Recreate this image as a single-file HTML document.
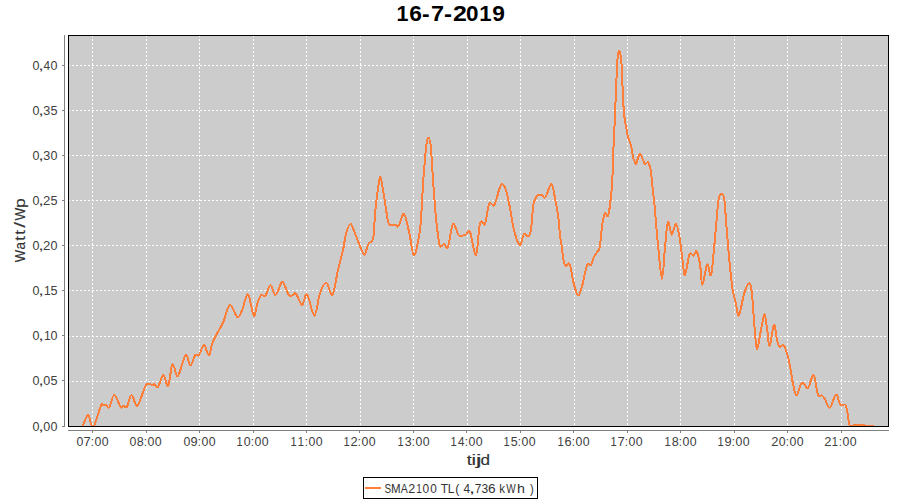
<!DOCTYPE html>
<html><head><meta charset="utf-8"><style>
html,body{margin:0;padding:0;background:#fff;width:900px;height:500px;overflow:hidden}
svg{display:block}
text{font-family:"Liberation Sans",sans-serif}
</style></head><body>
<svg width="900" height="500" viewBox="0 0 900 500">
<rect x="0" y="0" width="900" height="500" fill="#ffffff"/>
<text x="396.55" y="21" font-size="22" font-weight="bold" fill="#000" textLength="11.95" lengthAdjust="spacingAndGlyphs">1</text><text x="409.17" y="21" font-size="22" font-weight="bold" fill="#000" textLength="12.66" lengthAdjust="spacingAndGlyphs">6</text><text x="422.11" y="21" font-size="22" font-weight="bold" fill="#000" textLength="7.61" lengthAdjust="spacingAndGlyphs">-</text><text x="430.99" y="21" font-size="22" font-weight="bold" fill="#000" textLength="13.04" lengthAdjust="spacingAndGlyphs">7</text><text x="443.96" y="21" font-size="22" font-weight="bold" fill="#000" textLength="8.00" lengthAdjust="spacingAndGlyphs">-</text><text x="453.14" y="21" font-size="22" font-weight="bold" fill="#000" textLength="13.86" lengthAdjust="spacingAndGlyphs">2</text><text x="466.11" y="21" font-size="22" font-weight="bold" fill="#000" textLength="12.51" lengthAdjust="spacingAndGlyphs">0</text><text x="479.31" y="21" font-size="22" font-weight="bold" fill="#000" textLength="12.31" lengthAdjust="spacingAndGlyphs">1</text><text x="492.21" y="21" font-size="22" font-weight="bold" fill="#000" textLength="12.63" lengthAdjust="spacingAndGlyphs">9</text>
<rect x="68" y="35" width="820" height="391" fill="#cccccc"/>
<path d="M92.5 35V426M146.5 35V426M199.5 35V426M253.5 35V426M306.5 35V426M360.5 35V426M413.5 35V426M467.5 35V426M520.5 35V426M574.5 35V426M627.5 35V426M680.5 35V426M734.5 35V426M787.5 35V426M841.5 35V426M68 381.5H888M68 336.5H888M68 290.5H888M68 245.5H888M68 200.5H888M68 155.5H888M68 110.5H888M68 65.5H888" stroke="#ffffff" stroke-width="1" stroke-dasharray="2 2" shape-rendering="crispEdges" fill="none"/>
<clipPath id="c"><rect x="68" y="35" width="820" height="391"/></clipPath>
<path d="M82.70 426.00 C83.58 424.17 86.57 415.20 88.00 415.00 C89.43 414.80 90.22 423.17 91.30 424.80 C92.38 426.43 92.88 428.02 94.50 424.80 C96.12 421.58 99.47 408.75 101.00 405.50 C102.53 402.25 102.80 405.30 103.70 405.30 C104.60 405.30 105.47 405.17 106.40 405.50 C107.33 405.83 108.00 409.05 109.30 407.30 C110.60 405.55 112.32 395.05 114.20 395.00 C116.08 394.95 119.07 405.25 120.60 407.00 C122.13 408.75 122.37 405.50 123.40 405.50 C124.43 405.50 125.43 408.75 126.80 407.00 C128.17 405.25 129.83 395.23 131.60 395.00 C133.37 394.77 135.00 407.27 137.40 405.60 C139.80 403.93 143.57 388.43 146.00 385.00 C148.43 381.57 150.60 385.10 152.00 385.00 C153.40 384.90 153.40 384.07 154.40 384.40 C155.40 384.73 156.50 388.57 158.00 387.00 C159.50 385.43 161.73 375.17 163.40 375.00 C165.07 374.83 166.60 387.50 168.00 386.00 C169.40 384.50 170.80 369.20 171.80 366.00 C172.80 362.80 172.97 365.13 174.00 366.80 C175.03 368.47 176.07 377.97 178.00 376.00 C179.93 374.03 183.53 356.78 185.60 355.00 C187.67 353.22 188.80 365.30 190.40 365.30 C192.00 365.30 193.77 356.68 195.20 355.00 C196.63 353.32 197.53 356.87 199.00 355.20 C200.47 353.53 202.35 344.93 204.00 345.00 C205.65 345.07 207.50 355.93 208.90 355.60 C210.30 355.27 210.92 346.90 212.40 343.00 C213.88 339.10 216.00 335.65 217.80 332.20 C219.60 328.75 221.20 326.83 223.20 322.30 C225.20 317.77 227.45 305.88 229.80 305.00 C232.15 304.12 235.27 316.08 237.30 317.00 C239.33 317.92 240.22 314.27 242.00 310.50 C243.78 306.73 246.05 293.55 248.00 294.40 C249.95 295.25 252.13 314.10 253.70 315.60 C255.27 317.10 256.18 306.78 257.40 303.40 C258.62 300.02 259.65 296.62 261.00 295.30 C262.35 293.98 263.90 297.22 265.50 295.50 C267.10 293.78 268.95 285.08 270.60 285.00 C272.25 284.92 273.57 295.42 275.40 295.00 C277.23 294.58 280.17 284.33 281.60 282.50 C283.03 280.67 282.77 281.83 284.00 284.00 C285.23 286.17 287.62 293.58 289.00 295.50 C290.38 297.42 291.13 295.82 292.30 295.50 C293.47 295.18 294.38 292.02 296.00 293.60 C297.62 295.18 300.17 304.87 302.00 305.00 C303.83 305.13 304.93 292.63 307.00 294.40 C309.07 296.17 312.23 315.83 314.40 315.60 C316.57 315.37 318.00 298.43 320.00 293.00 C322.00 287.57 324.33 282.67 326.40 283.00 C328.47 283.33 330.47 297.17 332.40 295.00 C334.33 292.83 336.23 277.50 338.00 270.00 C339.77 262.50 341.67 256.00 343.00 250.00 C344.33 244.00 344.73 238.33 346.00 234.00 C347.27 229.67 348.93 223.67 350.60 224.00 C352.27 224.33 353.77 230.93 356.00 236.00 C358.23 241.07 362.00 252.98 364.00 254.40 C366.00 255.82 366.62 246.82 368.00 244.50 C369.38 242.18 371.30 242.58 372.30 240.50 C373.30 238.42 373.52 236.75 374.00 232.00 C374.48 227.25 374.23 221.00 375.20 212.00 C376.17 203.00 378.50 181.67 379.80 178.00 C381.10 174.33 381.63 182.83 383.00 190.00 C384.37 197.17 386.67 215.17 388.00 221.00 C389.33 226.83 389.83 224.42 391.00 225.00 C392.17 225.58 393.75 224.33 395.00 224.50 C396.25 224.67 397.00 227.75 398.50 226.00 C400.00 224.25 402.20 212.83 404.00 214.00 C405.80 215.17 407.63 226.07 409.30 233.00 C410.97 239.93 412.38 255.10 414.00 255.60 C415.62 256.10 417.83 242.10 419.00 236.00 C420.17 229.90 420.28 228.33 421.00 219.00 C421.72 209.67 422.58 190.50 423.30 180.00 C424.02 169.50 424.77 162.00 425.30 156.00 C425.83 150.00 425.97 147.08 426.50 144.00 C427.03 140.92 427.83 137.50 428.50 137.50 C429.17 137.50 430.00 140.92 430.50 144.00 C431.00 147.08 431.08 150.00 431.50 156.00 C431.92 162.00 432.50 172.67 433.00 180.00 C433.50 187.33 434.00 193.67 434.50 200.00 C435.00 206.33 435.15 210.50 436.00 218.00 C436.85 225.50 438.27 240.67 439.60 245.00 C440.93 249.33 442.60 243.67 444.00 244.00 C445.40 244.33 446.50 250.33 448.00 247.00 C449.50 243.67 451.17 225.90 453.00 224.00 C454.83 222.10 456.83 233.87 459.00 235.60 C461.17 237.33 464.17 235.00 466.00 234.40 C467.83 233.80 468.33 228.57 470.00 232.00 C471.67 235.43 474.33 256.50 476.00 255.00 C477.67 253.50 478.50 228.17 480.00 223.00 C481.50 217.83 483.50 227.17 485.00 224.00 C486.50 220.83 487.58 207.08 489.00 204.00 C490.42 200.92 492.33 206.00 493.50 205.50 C494.67 205.00 495.08 203.58 496.00 201.00 C496.92 198.42 498.00 192.83 499.00 190.00 C500.00 187.17 500.83 184.00 502.00 184.00 C503.17 184.00 504.67 186.00 506.00 190.00 C507.33 194.00 508.67 201.33 510.00 208.00 C511.33 214.67 512.40 223.83 514.00 230.00 C515.60 236.17 517.93 244.33 519.60 245.00 C521.27 245.67 522.60 235.42 524.00 234.00 C525.40 232.58 526.92 236.83 528.00 236.50 C529.08 236.17 529.83 234.75 530.50 232.00 C531.17 229.25 531.50 224.67 532.00 220.00 C532.50 215.33 532.58 208.08 533.50 204.00 C534.42 199.92 536.08 196.95 537.50 195.50 C538.92 194.05 540.67 195.02 542.00 195.30 C543.33 195.58 543.92 199.08 545.50 197.20 C547.08 195.32 549.83 183.37 551.50 184.00 C553.17 184.63 554.42 195.83 555.50 201.00 C556.58 206.17 557.42 211.17 558.00 215.00 C558.58 218.83 558.67 220.67 559.00 224.00 C559.33 227.33 559.58 231.50 560.00 235.00 C560.42 238.50 561.08 242.00 561.50 245.00 C561.92 248.00 562.17 250.50 562.50 253.00 C562.83 255.50 563.12 258.00 563.50 260.00 C563.88 262.00 564.30 264.00 564.80 265.00 C565.30 266.00 565.80 266.25 566.50 266.00 C567.20 265.75 568.25 263.00 569.00 263.50 C569.75 264.00 570.42 266.58 571.00 269.00 C571.58 271.42 571.83 274.83 572.50 278.00 C573.17 281.17 574.03 285.08 575.00 288.00 C575.97 290.92 577.13 295.75 578.30 295.50 C579.47 295.25 580.55 291.50 582.00 286.50 C583.45 281.50 585.50 269.12 587.00 265.50 C588.50 261.88 589.93 266.05 591.00 264.80 C592.07 263.55 592.50 259.97 593.40 258.00 C594.30 256.03 595.40 254.50 596.40 253.00 C597.40 251.50 598.70 251.17 599.40 249.00 C600.10 246.83 600.20 243.50 600.60 240.00 C601.00 236.50 601.40 231.33 601.80 228.00 C602.20 224.67 602.55 222.33 603.00 220.00 C603.45 217.67 604.10 215.08 604.50 214.00 C604.90 212.92 604.85 213.17 605.40 213.50 C605.95 213.83 607.10 216.92 607.80 216.00 C608.50 215.08 609.10 211.00 609.60 208.00 C610.10 205.00 610.37 202.17 610.80 198.00 C611.23 193.83 611.83 189.33 612.20 183.00 C612.57 176.67 612.73 167.17 613.00 160.00 C613.27 152.83 613.53 146.00 613.80 140.00 C614.07 134.00 614.40 129.00 614.60 124.00 C614.80 119.00 614.77 115.00 615.00 110.00 C615.23 105.00 615.70 100.67 616.00 94.00 C616.30 87.33 616.53 76.00 616.80 70.00 C617.07 64.00 617.32 61.00 617.60 58.00 C617.88 55.00 618.20 53.17 618.50 52.00 C618.80 50.83 619.07 50.50 619.40 51.00 C619.73 51.50 620.15 52.83 620.50 55.00 C620.85 57.17 621.22 59.83 621.50 64.00 C621.78 68.17 621.95 74.83 622.20 80.00 C622.45 85.17 622.77 90.33 623.00 95.00 C623.23 99.67 623.30 103.83 623.60 108.00 C623.90 112.17 624.35 116.67 624.80 120.00 C625.25 123.33 625.77 125.17 626.30 128.00 C626.83 130.83 627.38 134.58 628.00 137.00 C628.62 139.42 629.33 140.33 630.00 142.50 C630.67 144.67 631.50 147.50 632.00 150.00 C632.50 152.50 632.58 155.67 633.00 157.50 C633.42 159.33 634.00 159.95 634.50 161.00 C635.00 162.05 635.42 164.30 636.00 163.80 C636.58 163.30 637.30 159.70 638.00 158.00 C638.70 156.30 639.37 153.27 640.20 153.60 C641.03 153.93 642.20 158.30 643.00 160.00 C643.80 161.70 644.17 163.47 645.00 163.80 C645.83 164.13 647.30 161.80 648.00 162.00 C648.70 162.20 648.80 164.00 649.20 165.00 C649.60 166.00 650.00 165.90 650.40 168.00 C650.80 170.10 651.17 173.60 651.60 177.60 C652.03 181.60 652.53 187.60 653.00 192.00 C653.47 196.40 653.57 195.20 654.40 204.00 C655.23 212.80 656.73 232.30 658.00 244.80 C659.27 257.30 660.80 279.00 662.00 279.00 C663.20 279.00 664.20 254.30 665.20 244.80 C666.20 235.30 666.92 223.68 668.00 222.00 C669.08 220.32 670.37 234.42 671.70 234.70 C673.03 234.98 674.68 223.22 676.00 223.70 C677.32 224.18 678.48 231.28 679.60 237.60 C680.72 243.92 681.80 255.37 682.70 261.60 C683.60 267.83 683.87 276.18 685.00 275.00 C686.13 273.82 688.08 257.75 689.50 254.50 C690.92 251.25 692.33 256.00 693.50 255.50 C694.67 255.00 695.42 250.08 696.50 251.50 C697.58 252.92 699.02 258.47 700.00 264.00 C700.98 269.53 701.20 284.62 702.40 284.70 C703.60 284.78 705.77 266.12 707.20 264.50 C708.63 262.88 709.80 278.28 711.00 275.00 C712.20 271.72 713.23 256.63 714.40 244.80 C715.57 232.97 717.15 212.13 718.00 204.00 C718.85 195.87 719.00 197.67 719.50 196.00 C720.00 194.33 720.42 194.17 721.00 194.00 C721.58 193.83 722.42 193.83 723.00 195.00 C723.58 196.17 723.90 195.50 724.50 201.00 C725.10 206.50 725.77 217.83 726.60 228.00 C727.43 238.17 728.68 253.17 729.50 262.00 C730.32 270.83 730.92 276.00 731.50 281.00 C732.08 286.00 732.25 288.17 733.00 292.00 C733.75 295.83 735.00 300.07 736.00 304.00 C737.00 307.93 737.67 317.27 739.00 315.60 C740.33 313.93 742.37 299.35 744.00 294.00 C745.63 288.65 747.53 284.00 748.80 283.50 C750.07 283.00 750.73 284.92 751.60 291.00 C752.47 297.08 753.33 311.83 754.00 320.00 C754.67 328.17 755.03 335.27 755.60 340.00 C756.17 344.73 756.50 350.07 757.40 348.40 C758.30 346.73 759.83 335.67 761.00 330.00 C762.17 324.33 763.40 314.73 764.40 314.40 C765.40 314.07 766.13 322.73 767.00 328.00 C767.87 333.27 768.43 346.50 769.60 346.00 C770.77 345.50 772.77 326.00 774.00 325.00 C775.23 324.00 776.07 336.33 777.00 340.00 C777.93 343.67 778.60 346.17 779.60 347.00 C780.60 347.83 781.93 344.50 783.00 345.00 C784.07 345.50 784.83 346.50 786.00 350.00 C787.17 353.50 788.83 360.33 790.00 366.00 C791.17 371.67 791.90 379.08 793.00 384.00 C794.10 388.92 795.27 395.50 796.60 395.50 C797.93 395.50 799.77 385.92 801.00 384.00 C802.23 382.08 802.80 383.40 804.00 384.00 C805.20 384.60 806.60 389.10 808.20 387.60 C809.80 386.10 811.97 373.85 813.60 375.00 C815.23 376.15 816.60 391.08 818.00 394.50 C819.40 397.92 820.83 394.75 822.00 395.50 C823.17 396.25 823.72 396.97 825.00 399.00 C826.28 401.03 827.83 408.45 829.70 407.70 C831.57 406.95 834.45 394.98 836.20 394.50 C837.95 394.02 838.68 403.08 840.20 404.80 C841.72 406.52 844.10 403.60 845.30 404.80 C846.50 406.00 846.63 408.47 847.40 412.00 C848.17 415.53 848.57 423.83 849.90 426.00 C851.23 428.17 851.60 425.00 855.40 425.00 C859.20 425.00 869.82 425.83 872.70 426.00" stroke="#ff7f3a" stroke-width="2.0" fill="none" stroke-linejoin="round" stroke-linecap="round" clip-path="url(#c)" shape-rendering="crispEdges"/>
<rect x="68.5" y="35.5" width="820" height="391" fill="none" stroke="#000" stroke-width="1" shape-rendering="crispEdges"/>
<path d="M64.5 35V427M62 426.5H64M62 380.5H64M62 335.5H64M62 290.5H64M62 245.5H64M62 200.5H64M62 155.5H64M62 110.5H64M62 65.5H64M68 430.5H889M92.5 431V433M146.5 431V433M199.5 431V433M253.5 431V433M306.5 431V433M359.5 431V433M413.5 431V433M466.5 431V433M520.5 431V433M573.5 431V433M627.5 431V433M680.5 431V433M734.5 431V433M787.5 431V433M841.5 431V433" stroke="#808080" stroke-width="1" fill="none" shape-rendering="crispEdges"/>
<text x="32.51" y="430.8" font-size="12.5" fill="#404040" textLength="6.98" lengthAdjust="spacingAndGlyphs">0</text><text x="38.17" y="430.8" font-size="12.5" fill="#404040" textLength="5.66" lengthAdjust="spacingAndGlyphs">,</text><text x="43.31" y="430.8" font-size="12.5" fill="#404040" textLength="6.98" lengthAdjust="spacingAndGlyphs">0</text><text x="50.51" y="430.8" font-size="12.5" fill="#404040" textLength="6.98" lengthAdjust="spacingAndGlyphs">0</text>
<text x="32.51" y="384.8" font-size="12.5" fill="#404040" textLength="6.98" lengthAdjust="spacingAndGlyphs">0</text><text x="38.17" y="384.8" font-size="12.5" fill="#404040" textLength="5.66" lengthAdjust="spacingAndGlyphs">,</text><text x="43.31" y="384.8" font-size="12.5" fill="#404040" textLength="6.98" lengthAdjust="spacingAndGlyphs">0</text><text x="50.49" y="384.8" font-size="12.5" fill="#404040" textLength="7.04" lengthAdjust="spacingAndGlyphs">5</text>
<text x="32.51" y="339.8" font-size="12.5" fill="#404040" textLength="6.98" lengthAdjust="spacingAndGlyphs">0</text><text x="38.17" y="339.8" font-size="12.5" fill="#404040" textLength="5.66" lengthAdjust="spacingAndGlyphs">,</text><text x="43.88" y="339.8" font-size="12.5" fill="#404040" textLength="6.71" lengthAdjust="spacingAndGlyphs">1</text><text x="50.51" y="339.8" font-size="12.5" fill="#404040" textLength="6.98" lengthAdjust="spacingAndGlyphs">0</text>
<text x="32.51" y="294.8" font-size="12.5" fill="#404040" textLength="6.98" lengthAdjust="spacingAndGlyphs">0</text><text x="38.17" y="294.8" font-size="12.5" fill="#404040" textLength="5.66" lengthAdjust="spacingAndGlyphs">,</text><text x="43.88" y="294.8" font-size="12.5" fill="#404040" textLength="6.71" lengthAdjust="spacingAndGlyphs">1</text><text x="50.49" y="294.8" font-size="12.5" fill="#404040" textLength="7.04" lengthAdjust="spacingAndGlyphs">5</text>
<text x="32.51" y="249.8" font-size="12.5" fill="#404040" textLength="6.98" lengthAdjust="spacingAndGlyphs">0</text><text x="38.17" y="249.8" font-size="12.5" fill="#404040" textLength="5.66" lengthAdjust="spacingAndGlyphs">,</text><text x="43.14" y="249.8" font-size="12.5" fill="#404040" textLength="7.32" lengthAdjust="spacingAndGlyphs">2</text><text x="50.51" y="249.8" font-size="12.5" fill="#404040" textLength="6.98" lengthAdjust="spacingAndGlyphs">0</text>
<text x="32.51" y="204.8" font-size="12.5" fill="#404040" textLength="6.98" lengthAdjust="spacingAndGlyphs">0</text><text x="38.17" y="204.8" font-size="12.5" fill="#404040" textLength="5.66" lengthAdjust="spacingAndGlyphs">,</text><text x="43.14" y="204.8" font-size="12.5" fill="#404040" textLength="7.32" lengthAdjust="spacingAndGlyphs">2</text><text x="50.49" y="204.8" font-size="12.5" fill="#404040" textLength="7.04" lengthAdjust="spacingAndGlyphs">5</text>
<text x="32.51" y="159.8" font-size="12.5" fill="#404040" textLength="6.98" lengthAdjust="spacingAndGlyphs">0</text><text x="38.17" y="159.8" font-size="12.5" fill="#404040" textLength="5.66" lengthAdjust="spacingAndGlyphs">,</text><text x="43.32" y="159.8" font-size="12.5" fill="#404040" textLength="7.04" lengthAdjust="spacingAndGlyphs">3</text><text x="50.51" y="159.8" font-size="12.5" fill="#404040" textLength="6.98" lengthAdjust="spacingAndGlyphs">0</text>
<text x="32.51" y="114.8" font-size="12.5" fill="#404040" textLength="6.98" lengthAdjust="spacingAndGlyphs">0</text><text x="38.17" y="114.8" font-size="12.5" fill="#404040" textLength="5.66" lengthAdjust="spacingAndGlyphs">,</text><text x="43.32" y="114.8" font-size="12.5" fill="#404040" textLength="7.04" lengthAdjust="spacingAndGlyphs">3</text><text x="50.49" y="114.8" font-size="12.5" fill="#404040" textLength="7.04" lengthAdjust="spacingAndGlyphs">5</text>
<text x="32.51" y="69.8" font-size="12.5" fill="#404040" textLength="6.98" lengthAdjust="spacingAndGlyphs">0</text><text x="38.17" y="69.8" font-size="12.5" fill="#404040" textLength="5.66" lengthAdjust="spacingAndGlyphs">,</text><text x="43.53" y="69.8" font-size="12.5" fill="#404040" textLength="6.62" lengthAdjust="spacingAndGlyphs">4</text><text x="50.51" y="69.8" font-size="12.5" fill="#404040" textLength="6.98" lengthAdjust="spacingAndGlyphs">0</text>
<text x="76.52" y="445.8" font-size="12.5" fill="#404040" textLength="6.86" lengthAdjust="spacingAndGlyphs">0</text><text x="83.53" y="445.8" font-size="12.5" fill="#404040" textLength="7.22" lengthAdjust="spacingAndGlyphs">7</text><text x="90.85" y="445.8" font-size="12.5" fill="#404040" textLength="3.21" lengthAdjust="spacingAndGlyphs">:</text><text x="94.62" y="445.8" font-size="12.5" fill="#404040" textLength="6.86" lengthAdjust="spacingAndGlyphs">0</text><text x="101.72" y="445.8" font-size="12.5" fill="#404040" textLength="6.86" lengthAdjust="spacingAndGlyphs">0</text>
<text x="129.52" y="445.8" font-size="12.5" fill="#404040" textLength="6.86" lengthAdjust="spacingAndGlyphs">0</text><text x="136.65" y="445.8" font-size="12.5" fill="#404040" textLength="6.99" lengthAdjust="spacingAndGlyphs">8</text><text x="143.85" y="445.8" font-size="12.5" fill="#404040" textLength="3.21" lengthAdjust="spacingAndGlyphs">:</text><text x="147.62" y="445.8" font-size="12.5" fill="#404040" textLength="6.86" lengthAdjust="spacingAndGlyphs">0</text><text x="154.72" y="445.8" font-size="12.5" fill="#404040" textLength="6.86" lengthAdjust="spacingAndGlyphs">0</text>
<text x="183.52" y="445.8" font-size="12.5" fill="#404040" textLength="6.86" lengthAdjust="spacingAndGlyphs">0</text><text x="190.60" y="445.8" font-size="12.5" fill="#404040" textLength="7.10" lengthAdjust="spacingAndGlyphs">9</text><text x="197.85" y="445.8" font-size="12.5" fill="#404040" textLength="3.21" lengthAdjust="spacingAndGlyphs">:</text><text x="201.62" y="445.8" font-size="12.5" fill="#404040" textLength="6.86" lengthAdjust="spacingAndGlyphs">0</text><text x="208.72" y="445.8" font-size="12.5" fill="#404040" textLength="6.86" lengthAdjust="spacingAndGlyphs">0</text>
<text x="236.45" y="445.8" font-size="12.5" fill="#404040" textLength="6.19" lengthAdjust="spacingAndGlyphs">1</text><text x="243.72" y="445.8" font-size="12.5" fill="#404040" textLength="6.86" lengthAdjust="spacingAndGlyphs">0</text><text x="250.85" y="445.8" font-size="12.5" fill="#404040" textLength="3.21" lengthAdjust="spacingAndGlyphs">:</text><text x="254.62" y="445.8" font-size="12.5" fill="#404040" textLength="6.86" lengthAdjust="spacingAndGlyphs">0</text><text x="261.72" y="445.8" font-size="12.5" fill="#404040" textLength="6.86" lengthAdjust="spacingAndGlyphs">0</text>
<text x="290.45" y="445.8" font-size="12.5" fill="#404040" textLength="6.19" lengthAdjust="spacingAndGlyphs">1</text><text x="297.65" y="445.8" font-size="12.5" fill="#404040" textLength="6.19" lengthAdjust="spacingAndGlyphs">1</text><text x="304.85" y="445.8" font-size="12.5" fill="#404040" textLength="3.21" lengthAdjust="spacingAndGlyphs">:</text><text x="308.62" y="445.8" font-size="12.5" fill="#404040" textLength="6.86" lengthAdjust="spacingAndGlyphs">0</text><text x="315.72" y="445.8" font-size="12.5" fill="#404040" textLength="6.86" lengthAdjust="spacingAndGlyphs">0</text>
<text x="343.45" y="445.8" font-size="12.5" fill="#404040" textLength="6.19" lengthAdjust="spacingAndGlyphs">1</text><text x="350.55" y="445.8" font-size="12.5" fill="#404040" textLength="7.20" lengthAdjust="spacingAndGlyphs">2</text><text x="357.85" y="445.8" font-size="12.5" fill="#404040" textLength="3.21" lengthAdjust="spacingAndGlyphs">:</text><text x="361.62" y="445.8" font-size="12.5" fill="#404040" textLength="6.86" lengthAdjust="spacingAndGlyphs">0</text><text x="368.72" y="445.8" font-size="12.5" fill="#404040" textLength="6.86" lengthAdjust="spacingAndGlyphs">0</text>
<text x="397.45" y="445.8" font-size="12.5" fill="#404040" textLength="6.19" lengthAdjust="spacingAndGlyphs">1</text><text x="404.73" y="445.8" font-size="12.5" fill="#404040" textLength="6.92" lengthAdjust="spacingAndGlyphs">3</text><text x="411.85" y="445.8" font-size="12.5" fill="#404040" textLength="3.21" lengthAdjust="spacingAndGlyphs">:</text><text x="415.62" y="445.8" font-size="12.5" fill="#404040" textLength="6.86" lengthAdjust="spacingAndGlyphs">0</text><text x="422.72" y="445.8" font-size="12.5" fill="#404040" textLength="6.86" lengthAdjust="spacingAndGlyphs">0</text>
<text x="450.45" y="445.8" font-size="12.5" fill="#404040" textLength="6.19" lengthAdjust="spacingAndGlyphs">1</text><text x="457.93" y="445.8" font-size="12.5" fill="#404040" textLength="6.51" lengthAdjust="spacingAndGlyphs">4</text><text x="464.85" y="445.8" font-size="12.5" fill="#404040" textLength="3.21" lengthAdjust="spacingAndGlyphs">:</text><text x="468.62" y="445.8" font-size="12.5" fill="#404040" textLength="6.86" lengthAdjust="spacingAndGlyphs">0</text><text x="475.72" y="445.8" font-size="12.5" fill="#404040" textLength="6.86" lengthAdjust="spacingAndGlyphs">0</text>
<text x="503.45" y="445.8" font-size="12.5" fill="#404040" textLength="6.19" lengthAdjust="spacingAndGlyphs">1</text><text x="510.70" y="445.8" font-size="12.5" fill="#404040" textLength="6.92" lengthAdjust="spacingAndGlyphs">5</text><text x="517.85" y="445.8" font-size="12.5" fill="#404040" textLength="3.21" lengthAdjust="spacingAndGlyphs">:</text><text x="521.62" y="445.8" font-size="12.5" fill="#404040" textLength="6.86" lengthAdjust="spacingAndGlyphs">0</text><text x="528.72" y="445.8" font-size="12.5" fill="#404040" textLength="6.86" lengthAdjust="spacingAndGlyphs">0</text>
<text x="557.45" y="445.8" font-size="12.5" fill="#404040" textLength="6.19" lengthAdjust="spacingAndGlyphs">1</text><text x="564.55" y="445.8" font-size="12.5" fill="#404040" textLength="7.11" lengthAdjust="spacingAndGlyphs">6</text><text x="571.85" y="445.8" font-size="12.5" fill="#404040" textLength="3.21" lengthAdjust="spacingAndGlyphs">:</text><text x="575.62" y="445.8" font-size="12.5" fill="#404040" textLength="6.86" lengthAdjust="spacingAndGlyphs">0</text><text x="582.72" y="445.8" font-size="12.5" fill="#404040" textLength="6.86" lengthAdjust="spacingAndGlyphs">0</text>
<text x="610.45" y="445.8" font-size="12.5" fill="#404040" textLength="6.19" lengthAdjust="spacingAndGlyphs">1</text><text x="617.53" y="445.8" font-size="12.5" fill="#404040" textLength="7.22" lengthAdjust="spacingAndGlyphs">7</text><text x="624.85" y="445.8" font-size="12.5" fill="#404040" textLength="3.21" lengthAdjust="spacingAndGlyphs">:</text><text x="628.62" y="445.8" font-size="12.5" fill="#404040" textLength="6.86" lengthAdjust="spacingAndGlyphs">0</text><text x="635.72" y="445.8" font-size="12.5" fill="#404040" textLength="6.86" lengthAdjust="spacingAndGlyphs">0</text>
<text x="664.45" y="445.8" font-size="12.5" fill="#404040" textLength="6.19" lengthAdjust="spacingAndGlyphs">1</text><text x="671.65" y="445.8" font-size="12.5" fill="#404040" textLength="6.99" lengthAdjust="spacingAndGlyphs">8</text><text x="678.85" y="445.8" font-size="12.5" fill="#404040" textLength="3.21" lengthAdjust="spacingAndGlyphs">:</text><text x="682.62" y="445.8" font-size="12.5" fill="#404040" textLength="6.86" lengthAdjust="spacingAndGlyphs">0</text><text x="689.72" y="445.8" font-size="12.5" fill="#404040" textLength="6.86" lengthAdjust="spacingAndGlyphs">0</text>
<text x="717.45" y="445.8" font-size="12.5" fill="#404040" textLength="6.19" lengthAdjust="spacingAndGlyphs">1</text><text x="724.60" y="445.8" font-size="12.5" fill="#404040" textLength="7.10" lengthAdjust="spacingAndGlyphs">9</text><text x="731.85" y="445.8" font-size="12.5" fill="#404040" textLength="3.21" lengthAdjust="spacingAndGlyphs">:</text><text x="735.62" y="445.8" font-size="12.5" fill="#404040" textLength="6.86" lengthAdjust="spacingAndGlyphs">0</text><text x="742.72" y="445.8" font-size="12.5" fill="#404040" textLength="6.86" lengthAdjust="spacingAndGlyphs">0</text>
<text x="771.35" y="445.8" font-size="12.5" fill="#404040" textLength="7.20" lengthAdjust="spacingAndGlyphs">2</text><text x="778.72" y="445.8" font-size="12.5" fill="#404040" textLength="6.86" lengthAdjust="spacingAndGlyphs">0</text><text x="785.85" y="445.8" font-size="12.5" fill="#404040" textLength="3.21" lengthAdjust="spacingAndGlyphs">:</text><text x="789.62" y="445.8" font-size="12.5" fill="#404040" textLength="6.86" lengthAdjust="spacingAndGlyphs">0</text><text x="796.72" y="445.8" font-size="12.5" fill="#404040" textLength="6.86" lengthAdjust="spacingAndGlyphs">0</text>
<text x="824.35" y="445.8" font-size="12.5" fill="#404040" textLength="7.20" lengthAdjust="spacingAndGlyphs">2</text><text x="831.65" y="445.8" font-size="12.5" fill="#404040" textLength="6.19" lengthAdjust="spacingAndGlyphs">1</text><text x="838.85" y="445.8" font-size="12.5" fill="#404040" textLength="3.21" lengthAdjust="spacingAndGlyphs">:</text><text x="842.62" y="445.8" font-size="12.5" fill="#404040" textLength="6.86" lengthAdjust="spacingAndGlyphs">0</text><text x="849.72" y="445.8" font-size="12.5" fill="#404040" textLength="6.86" lengthAdjust="spacingAndGlyphs">0</text>
<text x="466.82" y="465" font-size="15" fill="#333" textLength="5.11" lengthAdjust="spacingAndGlyphs" stroke="#333" stroke-width="0.15">t</text><text x="471.63" y="465" font-size="15" fill="#333" textLength="4.55" lengthAdjust="spacingAndGlyphs" stroke="#333" stroke-width="0.15">i</text><text x="475.85" y="465" font-size="15" fill="#333" textLength="5.95" lengthAdjust="spacingAndGlyphs" stroke="#333" stroke-width="0.15">j</text><text x="480.48" y="465" font-size="15" fill="#333" textLength="9.52" lengthAdjust="spacingAndGlyphs" stroke="#333" stroke-width="0.15">d</text>
<g transform="translate(25,0) rotate(-90)"><text x="-262.26" y="0" font-size="14.5" fill="#333" textLength="12.40" lengthAdjust="spacingAndGlyphs" stroke="#333" stroke-width="0.15">W</text><text x="-249.47" y="0" font-size="14.5" fill="#333" textLength="7.47" lengthAdjust="spacingAndGlyphs" stroke="#333" stroke-width="0.15">a</text><text x="-240.85" y="0" font-size="14.5" fill="#333" textLength="4.68" lengthAdjust="spacingAndGlyphs" stroke="#333" stroke-width="0.15">t</text><text x="-234.75" y="0" font-size="14.5" fill="#333" textLength="4.68" lengthAdjust="spacingAndGlyphs" stroke="#333" stroke-width="0.15">t</text><text x="-227.70" y="0" font-size="14.5" fill="#333" textLength="5.80" lengthAdjust="spacingAndGlyphs" stroke="#333" stroke-width="0.15">/</text><text x="-220.56" y="0" font-size="14.5" fill="#333" textLength="12.71" lengthAdjust="spacingAndGlyphs" stroke="#333" stroke-width="0.15">W</text><text x="-207.93" y="0" font-size="14.5" fill="#333" textLength="9.77" lengthAdjust="spacingAndGlyphs" stroke="#333" stroke-width="0.15">p</text>
</g>
<rect x="363.5" y="477.5" width="174" height="21" fill="#fff" stroke="#000" stroke-width="1" shape-rendering="crispEdges"/>
<rect x="365" y="487" width="16" height="2" fill="#ff7f3a"/>
<text x="384.55" y="493" font-size="13.5" fill="#333" textLength="6.60" lengthAdjust="spacingAndGlyphs">S</text><text x="391.06" y="493" font-size="13.5" fill="#333" textLength="9.59" lengthAdjust="spacingAndGlyphs">M</text><text x="400.68" y="493" font-size="13.5" fill="#333" textLength="7.04" lengthAdjust="spacingAndGlyphs">A</text><text x="408.37" y="493" font-size="13.5" fill="#333" textLength="6.96" lengthAdjust="spacingAndGlyphs">2</text><text x="416.24" y="493" font-size="13.5" fill="#333" textLength="5.55" lengthAdjust="spacingAndGlyphs">1</text><text x="422.53" y="493" font-size="13.5" fill="#333" textLength="6.63" lengthAdjust="spacingAndGlyphs">0</text><text x="430.24" y="493" font-size="13.5" fill="#333" textLength="6.52" lengthAdjust="spacingAndGlyphs">0</text><text x="440.73" y="493" font-size="13.5" fill="#333" textLength="7.24" lengthAdjust="spacingAndGlyphs">T</text><text x="447.71" y="493" font-size="13.5" fill="#333" textLength="6.69" lengthAdjust="spacingAndGlyphs">L</text><text x="455.23" y="493" font-size="13.5" fill="#333" textLength="4.14" lengthAdjust="spacingAndGlyphs">(</text><text x="463.43" y="493" font-size="13.5" fill="#333" textLength="6.62" lengthAdjust="spacingAndGlyphs">4</text><text x="468.89" y="493" font-size="13.5" fill="#333" textLength="6.51" lengthAdjust="spacingAndGlyphs">,</text><text x="474.69" y="493" font-size="13.5" fill="#333" textLength="6.61" lengthAdjust="spacingAndGlyphs">7</text><text x="481.54" y="493" font-size="13.5" fill="#333" textLength="6.69" lengthAdjust="spacingAndGlyphs">3</text><text x="488.01" y="493" font-size="13.5" fill="#333" textLength="7.59" lengthAdjust="spacingAndGlyphs">6</text><text x="499.22" y="493" font-size="13.5" fill="#333" textLength="5.76" lengthAdjust="spacingAndGlyphs">k</text><text x="506.26" y="493" font-size="13.5" fill="#333" textLength="9.48" lengthAdjust="spacingAndGlyphs">W</text><text x="517.01" y="493" font-size="13.5" fill="#333" textLength="7.91" lengthAdjust="spacingAndGlyphs">h</text><text x="529.93" y="493" font-size="13.5" fill="#333" textLength="3.77" lengthAdjust="spacingAndGlyphs">)</text>
</svg>
</body></html>
